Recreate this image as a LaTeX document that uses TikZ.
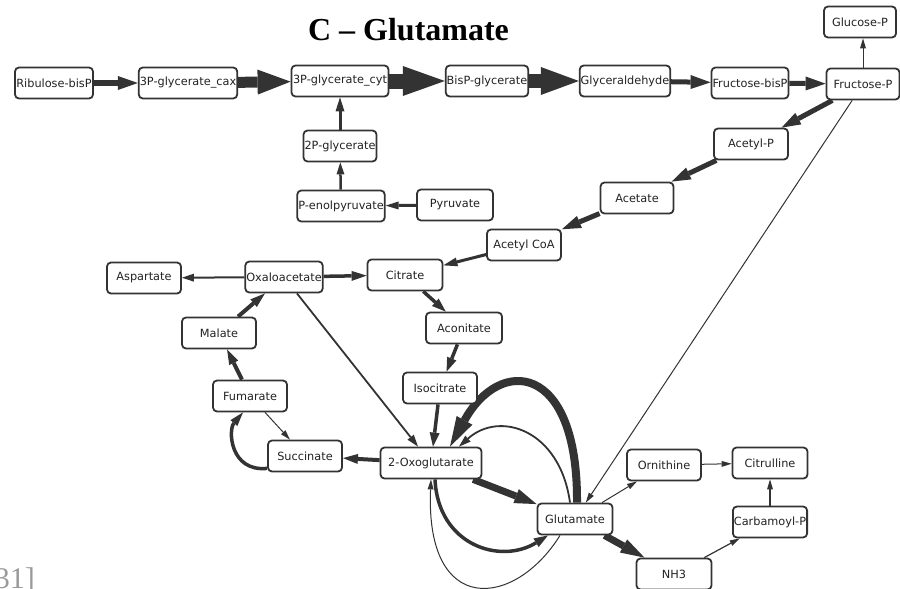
\documentclass[tikz,border=0pt]{standalone}
\usepackage{fontspec}
\setmainfont{DejaVu Sans}
\newfontfamily\titlefont{Liberation Serif}
\usetikzlibrary{arrows.meta}
\definecolor{ink}{HTML}{333333}
\definecolor{txt}{HTML}{222222}
\definecolor{refgray}{HTML}{9A9A9A}
\pgfdeclarelayer{bg}
\pgfsetlayers{bg,main}
\begin{document}
\begin{tikzpicture}[x=1pt,y=-1pt,
  box/.style={draw=ink, line width=1.8pt, rounded corners=4pt, fill=white,
    minimum height=31pt, inner sep=1pt, font=\fontsize{11.3}{13}\selectfont, text=txt},
  ar/.style n args={3}{draw=ink, line width=#1pt,
    -{Triangle[length=#2pt,width=#3pt,line width=0pt]}}
]
\useasboundingbox (0,0) rectangle (900,589);

% title and reference fragment
\node[anchor=base, font=\titlefont\bfseries\fontsize{32}{36}\selectfont, text=black] (title) at (408.5,40) {C – Glutamate};
\node[anchor=base east, inner sep=0pt, font=\titlefont\fontsize{30}{34}\selectfont, text=refgray] (refno) at (35,588) {31]};

% nodes
\node[box, minimum width=78pt] (rib)  at (54,83)   {Ribulose-bisP};
\node[box, minimum width=98pt] (cax)  at (188,83)  {3P-glycerate\_cax};
\node[box, minimum width=97pt] (cyt)  at (340,81)  {3P-glycerate\_cyt};
\node[box, minimum width=82pt] (bis)  at (487,81)  {BisP-glycerate};
\node[box, minimum width=90pt] (gly)  at (625,81)  {Glyceraldehyde};
\node[box, minimum width=75pt] (fbis) at (750,83)  {Fructose-bisP};
\node[box, minimum width=73pt] (fp)   at (863,84)  {Fructose-P};
\node[box, minimum width=72pt] (glc)  at (860,22)  {Glucose-P};
\node[box, minimum width=73pt] (pg2)  at (340,146) {2P-glycerate};
\node[box, minimum width=87pt] (pep)  at (341,206) {P-enolpyruvate};
\node[box, minimum width=76pt] (pyr)  at (455,205) {Pyruvate};
\node[box, minimum width=74pt] (acp)  at (751,144) {Acetyl-P};
\node[box, minimum width=73pt] (ace)  at (637,198) {Acetate};
\node[box, minimum width=74pt] (acoa) at (524,245) {Acetyl CoA};
\node[box, minimum width=74pt] (asp)  at (144,278) {Aspartate};
\node[box, minimum width=75pt] (oxa)  at (284,277) {Oxaloacetate};
\node[box, minimum width=75pt] (cit)  at (405,275) {Citrate};
\node[box, minimum width=76pt] (acn)  at (464,328) {Aconitate};
\node[box, minimum width=74pt] (mal)  at (219,333) {Malate};
\node[box, minimum width=74pt] (iso)  at (440,388) {Isocitrate};
\node[box, minimum width=74pt] (fum)  at (250,396) {Fumarate};
\node[box, minimum width=74pt] (suc)  at (305,456) {Succinate};
\node[box, minimum width=101pt] (oxo) at (431,463) {2-Oxoglutarate};
\node[box, minimum width=75pt] (glu)  at (575,519) {Glutamate};
\node[box, minimum width=74pt] (orn)  at (664,465) {Ornithine};
\node[box, minimum width=75pt] (citr) at (770,463) {Citrulline};
\node[box, minimum width=74pt] (carb) at (770,522) {Carbamoyl-P};
\node[box, minimum width=75pt] (nh3)  at (674,574) {NH3};

\begin{pgfonlayer}{bg}
% top row
\draw[ar={6}{20}{14}]  (rib) -- (cax);
\draw[ar={11}{33}{25}] (cax) -- (cyt);
\draw[ar={15}{42}{30}] (cyt) -- (bis);
\draw[ar={14}{38}{28}] (bis) -- (gly);
\draw[ar={5}{20}{14}]  (gly) -- (fbis);
\draw[ar={5}{20}{14}]  (fbis) -- (fp);
\draw[ar={1}{10}{6}]   (fp.north) -- (fp.north |- glc.south);
% glycolysis branch
\draw[ar={3}{14}{9}]   (pg2) -- (cyt);
\draw[ar={2.5}{12}{8}] (pep) -- (pg2);
\draw[ar={3}{13}{8}]   (pyr) -- (pep);
% acetate branch
\draw[ar={5}{19}{13}]  (fp) -- (acp);
\draw[ar={5}{19}{13}]  (acp) -- (ace);
\draw[ar={5}{19}{13}]  (ace) -- (acoa);
\draw[ar={3}{14}{9}]   (acoa) -- (cit);
% TCA cycle
\draw[ar={2}{12}{8}]   (oxa) -- (asp);
\draw[ar={3.5}{15}{10}] (oxa) -- (cit);
\draw[ar={3.5}{14}{10}] (cit) -- (acn);
\draw[ar={3.5}{14}{10}] (acn) -- (iso);
\draw[ar={3.5}{14}{10}] (iso) -- (oxo);
\draw[ar={1.8}{12}{8}] (oxa) -- (oxo);
\draw[ar={4}{15}{10}]  (mal) -- (oxa);
\draw[ar={4}{15}{10}]  (fum) -- (mal);
\draw[ar={1}{10}{6}]   (fum) -- (suc);
\draw[ar={3.5}{14}{9}] ([yshift=4pt]suc.south west) .. controls (230,472) and (228,430) .. ([xshift=-7pt]fum.south);
\draw[ar={4}{15}{10}]  (oxo) -- (suc);
% glutamate
\draw[ar={7}{22}{15}]  (oxo) -- (glu);
\draw[ar={8}{30}{18}]  ([xshift=2pt]glu.north) .. controls (578,362) and (500,356) .. ([xshift=19pt]oxo.north);
\draw[ar={1.8}{12}{8}] ([xshift=-5pt]glu.north) .. controls (560,430) and (500,410) .. ([xshift=28pt]oxo.north);
\draw[ar={3.5}{14}{10}] ([xshift=4pt]oxo.south) .. controls (438,545) and (500,565) .. ([xshift=-27pt]glu.south);
\draw[ar={1}{10}{6}]   ([xshift=-15pt]glu.south) .. controls (515,608) and (425,618) .. (oxo.south);
\draw[ar={1}{10}{6}]   (fp) -- (glu);
\draw[ar={1}{10}{6}]   (glu) -- (orn);
\draw[ar={1}{10}{6}]   (orn) -- (citr);
\draw[ar={1.2}{10}{6}] (carb) -- (citr);
\draw[ar={1.2}{10}{6}] (nh3) -- (carb);
\draw[ar={7}{24}{15}]  (glu) -- (nh3);
\end{pgfonlayer}
\end{tikzpicture}
\end{document}
